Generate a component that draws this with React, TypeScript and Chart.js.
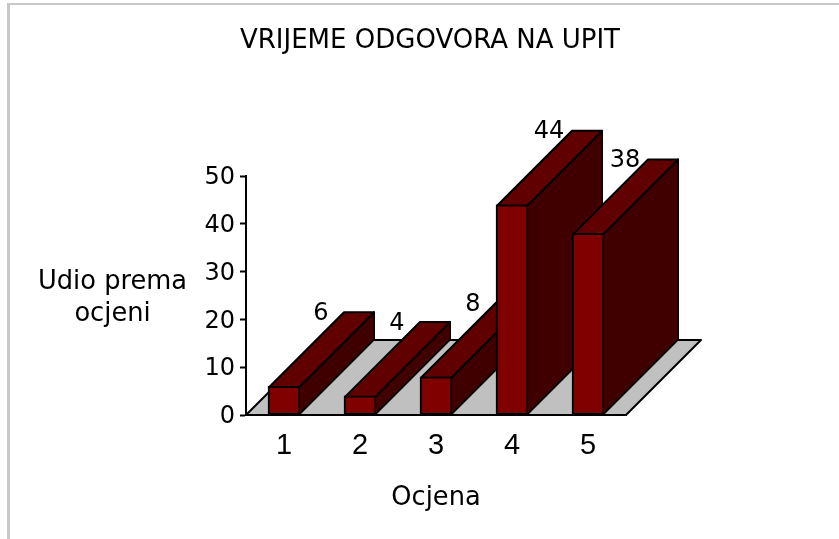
import React, { useEffect, useRef } from "react";
import { Chart, registerables } from "chart.js";

Chart.register(...registerables);

const chartTitle = "VRIJEME ODGOVORA NA UPIT";
const xAxisTitle = "Ocjena";
const yAxisTitleLines = ["Udio prema", "ocjeni"];
const categories = ["1", "2", "3", "4", "5"];
const shares = [6, 4, 8, 44, 38];

const DEPTH = 75;
const LINE = 2;
const VERDANA = "'DejaVu Sans', Verdana, sans-serif";

const plugin3d = {
  id: "plugin3d",
  afterLayout(chart: any) {
    // Title is centred slightly left of the plot area in the reference
    if (chart.titleBlock) {
      chart.titleBlock.left -= 6;
      chart.titleBlock.right -= 6;
    }
  },
  beforeDatasetsDraw(chart: any) {
    const { ctx, chartArea } = chart;
    const base = chart.scales.y.getPixelForValue(0);
    ctx.save();
    ctx.lineWidth = LINE;
    ctx.strokeStyle = "#000";
    ctx.lineJoin = "round";
    // floor
    ctx.fillStyle = "#c0c0c0";
    ctx.beginPath();
    ctx.moveTo(chartArea.left, base);
    ctx.lineTo(chartArea.left + DEPTH, base - DEPTH);
    ctx.lineTo(chartArea.right + DEPTH, base - DEPTH);
    ctx.lineTo(chartArea.right, base);
    ctx.closePath();
    ctx.fill();
    ctx.stroke();
    // extrusions (aligned on the centre of the bar's inset border)
    chart.getDatasetMeta(0).data.forEach((el: any) => {
      const props = el.getProps(["x", "y", "base", "width"], true);
      const l = props.x - props.width / 2 + LINE / 2;
      const r = props.x + props.width / 2 - LINE / 2;
      const y = props.y + LINE / 2;
      const b = props.base;
      ctx.fillStyle = "#400000";
      ctx.beginPath();
      ctx.moveTo(r, y);
      ctx.lineTo(r + DEPTH, y - DEPTH);
      ctx.lineTo(r + DEPTH, b - DEPTH);
      ctx.lineTo(r, b);
      ctx.closePath();
      ctx.fill();
      ctx.stroke();
      ctx.fillStyle = "#600000";
      ctx.beginPath();
      ctx.moveTo(l, y);
      ctx.lineTo(l + DEPTH, y - DEPTH);
      ctx.lineTo(r + DEPTH, y - DEPTH);
      ctx.lineTo(r, y);
      ctx.closePath();
      ctx.fill();
      ctx.stroke();
    });
    ctx.restore();
  },
  afterDatasetsDraw(chart: any) {
    const { ctx } = chart;
    ctx.save();
    ctx.fillStyle = "#000";
    ctx.textAlign = "center";
    ctx.textBaseline = "middle";
    ctx.font = `24px ${VERDANA}`;
    chart.getDatasetMeta(0).data.forEach((el: any, i: number) => {
      const { x, y } = el.getProps(["x", "y"], true);
      ctx.fillText(String(shares[i]), x + 37, y - 72.5);
    });
    ctx.font = `25.7px ${VERDANA}`;
    yAxisTitleLines.forEach((line, i) => {
      ctx.fillText(line, 112.5, 282 + i * 32);
    });
    ctx.restore();
  },
};

export default function App() {
  const ref = useRef<HTMLCanvasElement>(null);
  useEffect(() => {
    const chart = new Chart(ref.current as HTMLCanvasElement, {
      type: "bar",
      data: {
        labels: categories,
        datasets: [
          {
            label: "Udio prema ocjeni",
            data: shares,
            backgroundColor: "#800000",
            borderColor: "#000",
            borderWidth: LINE,
            borderSkipped: false,
            barThickness: 32,
          },
        ],
      },
      options: {
        responsive: false,
        animation: false,
        layout: { padding: { left: 0, right: 213, top: 0, bottom: 0 } },
        plugins: {
          legend: { display: false },
          tooltip: { enabled: false },
          title: {
            display: true,
            text: chartTitle,
            fullSize: false,
            color: "#000",
            font: { family: VERDANA, size: 26.7, weight: "normal", lineHeight: 1.2 },
            padding: { top: 25, bottom: 119 },
          },
        },
        scales: {
          x: {
            afterFit(s: any) {
              s.height = 124;
            },
            grid: { display: false },
            border: { color: "#000", width: LINE },
            ticks: {
              color: "#000",
              padding: 6,
              maxRotation: 0,
              font: { family: "'Liberation Sans', Arial, sans-serif", size: 29 },
            },
            title: {
              display: true,
              text: xAxisTitle,
              color: "#000",
              font: { family: VERDANA, size: 25.7, lineHeight: 1.2 },
              padding: { top: 0, bottom: 25 },
            },
          },
          y: {
            min: 0,
            max: 50,
            afterFit(s: any) {
              s.width = 246;
            },
            grid: {
              drawOnChartArea: false,
              drawTicks: true,
              tickLength: 6,
              tickColor: "#000",
              tickWidth: LINE,
            },
            border: { color: "#000", width: LINE },
            ticks: {
              stepSize: 10,
              color: "#000",
              padding: 5,
              labelOffset: 2,
              font: { family: VERDANA, size: 24 },
            },
          },
        },
      } as any,
      plugins: [plugin3d],
    });
    return () => chart.destroy();
  }, []);
  return (
    <div style={{ position: "absolute", left: 0, top: 0, width: 839, height: 539, overflow: "hidden", background: "#fff" }}>
      <div style={{ position: "absolute", left: 7, top: 3, right: 0, height: 2, background: "#c8c8c8" }} />
      <div style={{ position: "absolute", left: 7, top: 3, bottom: 0, width: 3, background: "#c8c8c8" }} />
      <canvas ref={ref} width={839} height={539} style={{ position: "absolute", left: 0, top: 0 }} />
    </div>
  );
}
